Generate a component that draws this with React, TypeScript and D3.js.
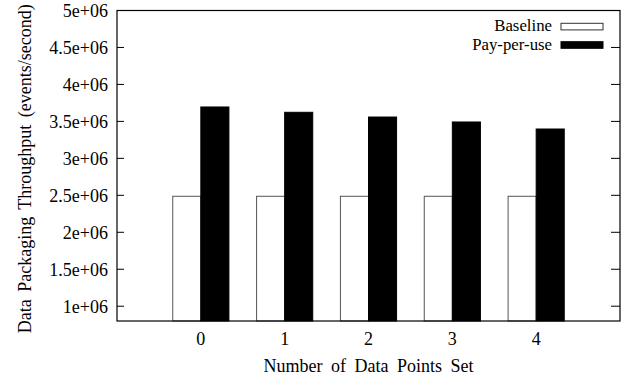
import React from "react";
import * as d3 from "d3";

const categories = ["0", "1", "2", "3", "4"];
const baseline = [2487000, 2487000, 2487000, 2487000, 2487000];
const payPerUse = [3695000, 3623000, 3559000, 3492000, 3397000];
const yTicks = [1e6, 1.5e6, 2e6, 2.5e6, 3e6, 3.5e6, 4e6, 4.5e6, 5e6];
const yTickLabels = ["1e+06", "1.5e+06", "2e+06", "2.5e+06", "3e+06", "3.5e+06", "4e+06", "4.5e+06", "5e+06"];
const seriesNames = ["Baseline", "Pay-per-use"];

const W = 627;
const H = 380;
const L = 117, R = 620, T = 10.5, B = 321;
const FONT = "'Liberation Serif', 'Times New Roman', Times, serif";
const FS = 18;
const ts: React.CSSProperties = { fontFamily: FONT, fontSize: FS };

export default function App() {
  const x = d3.scaleLinear().domain([-1, categories.length]).range([L, R]);
  const y = d3.scaleLinear().domain([800000, 5e6]).range([B, T]);
  const bw = 0.335;
  const unit = x(1) - x(0);
  const w = bw * unit;

  return (
    <svg width={W} height={H} style={{ position: "absolute", left: 0, top: 0, background: "#fff" }}>
      <rect x={0} y={0} width={W} height={H} fill="#fff" />
      {categories.map((c, i) => (
        <g key={c}>
          <rect x={x(i) - w} y={y(baseline[i])} width={w} height={B - y(baseline[i])} fill="#fff" stroke="#555" strokeWidth={1} />
          <rect x={x(i)} y={y(payPerUse[i])} width={w} height={B - y(payPerUse[i])} fill="#000" stroke="#000" strokeWidth={1} />
        </g>
      ))}
      {yTicks.map((t, i) => (
        <g key={t}>
          <line x1={L} x2={L + 7} y1={y(t)} y2={y(t)} stroke="#000" strokeWidth={1} />
          <line x1={R - 9} x2={R} y1={y(t)} y2={y(t)} stroke="#000" strokeWidth={1} />
          <text x={L - 9} y={y(t)} dy="0.35em" textAnchor="end" style={ts} fill="#000">{yTickLabels[i]}</text>
        </g>
      ))}
      {categories.map((c, i) => (
        <text key={c} x={x(i)} y={345} textAnchor="middle" style={ts} fill="#000">{c}</text>
      ))}
      <rect x={L} y={T} width={R - L} height={B - T} fill="none" stroke="#000" strokeWidth={1.2} />
      <text x={(L + R) / 2} y={372} textAnchor="middle" style={{ ...ts, wordSpacing: 4 }} fill="#000">Number of Data Points Set</text>
      <text transform={`translate(31,${(T + B) / 2 + 3}) rotate(-90)`} textAnchor="middle" style={{ ...ts, wordSpacing: 3 }} fill="#000">Data Packaging Throughput (events/second)</text>
      {seriesNames.map((s, i) => (
        <g key={s}>
          <text x={552} y={30.5 + i * 19} textAnchor="end" style={{ ...ts, fontSize: 16.8 }} fill="#000">{s}</text>
          <rect x={561} y={23.3 + i * 18.4} width={42} height={6.6} fill={i === 0 ? "#fff" : "#000"} stroke={i === 0 ? "#333" : "#000"} strokeWidth={1} />
        </g>
      ))}
    </svg>
  );
}
